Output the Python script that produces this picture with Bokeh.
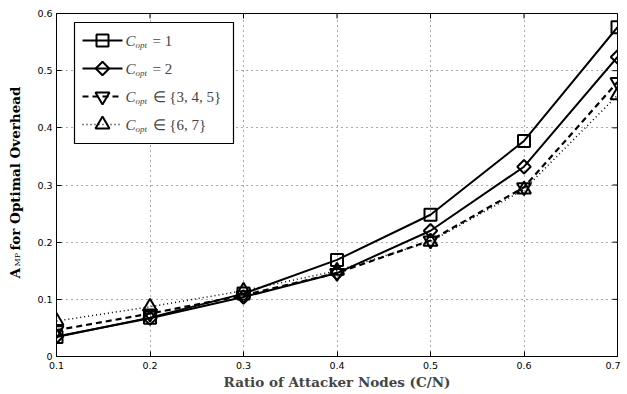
import numpy as np
from bokeh.plotting import figure
from bokeh.layouts import row
from bokeh.models import Range1d, FixedTicker, Label
from bokeh.core.properties import value
from bokeh.embed import file_html
from bokeh.resources import INLINE

# ---- data ----
ratio = [0.1, 0.2, 0.3, 0.4, 0.5, 0.6, 0.7]
c1 = [0.034, 0.068, 0.110, 0.169, 0.248, 0.377, 0.576]
c2 = [0.035, 0.067, 0.104, 0.146, 0.220, 0.332, 0.524]
c345 = [0.046, 0.075, 0.107, 0.146, 0.203, 0.296, 0.480]
c67 = [0.062, 0.087, 0.115, 0.150, 0.201, 0.292, 0.457]
x_ticks = [0.1, 0.2, 0.3, 0.4, 0.5, 0.6, 0.7]
y_ticks = [0, 0.1, 0.2, 0.3, 0.4, 0.5, 0.6]
x_label = "Ratio of Attacker Nodes (C/N)"
y_label_main = "A"
y_label_sub = "MP"
y_label_rest = "for Optimal Overhead"

# ---- layout constants (image pixels) ----
STRIP = 28
FL, FR, FT, FB = 56, 617, 13, 356
XMIN, XMAX, YMIN, YMAX = 0.1, 0.7, 0.0, 0.6
H = 392

def dx(ix):
    return XMIN + (ix - FL) / (FR - FL) * (XMAX - XMIN)

def dy(iy):
    return YMIN + (FB - iy) / (FB - FT) * (YMAX - YMIN)

W = 620 - STRIP
p = figure(width=W, height=H, output_backend="svg", toolbar_location=None,
           x_range=Range1d(XMIN, XMAX), y_range=Range1d(YMIN, YMAX),
           min_border_left=FL - STRIP, min_border_top=FT,
           min_border_right=620 - FR, min_border_bottom=H - FB)
p.outline_line_color = "black"
p.outline_line_width = 1
p.background_fill_color = "white"
p.border_fill_color = "white"

tick_font = "DejaVu Sans"
for ax in p.xaxis + p.yaxis:
    ax.major_tick_in = 5
    ax.major_tick_out = 0
    ax.minor_tick_line_color = None
    ax.axis_line_color = "black"
    ax.major_label_text_font = tick_font
    ax.major_label_text_font_size = "9.5px"
    ax.major_label_text_color = "black"
p.xaxis.ticker = FixedTicker(ticks=x_ticks)
p.yaxis.ticker = FixedTicker(ticks=y_ticks)
p.yaxis.major_label_overrides = {0: "0"}
p.xaxis.major_label_standoff = 5
p.yaxis.major_label_standoff = 4
p.xaxis.axis_label = x_label
p.xaxis.axis_label_text_font = "DejaVu Serif"
p.xaxis.axis_label_text_font_style = "bold"
p.xaxis.axis_label_text_font_size = "13.5px"
p.xaxis.axis_label_standoff = 2

p.grid.grid_line_color = "#555555"
p.grid.grid_line_dash = "1 4"
p.grid.grid_line_width = 1
p.xgrid.ticker = FixedTicker(ticks=x_ticks)
p.ygrid.ticker = FixedTicker(ticks=y_ticks)

# top / right inward ticks (mirror of the axes)
tx = 5 / (FB - FT) * (YMAX - YMIN)
ty = 5 / (FR - FL) * (XMAX - XMIN)
p.segment(x0=x_ticks, x1=x_ticks, y0=[YMAX] * len(x_ticks), y1=[YMAX - tx] * len(x_ticks),
          line_color="black", line_width=1)
p.segment(x0=[XMAX] * len(y_ticks), x1=[XMAX - ty] * len(y_ticks), y0=y_ticks, y1=y_ticks,
          line_color="black", line_width=1)

# ---- series ----
series = [
    (c1, "solid", 2, "square", 12, 0.0),
    (c2, "solid", 2, "square", 9.5, np.pi / 4),
    (c345, "6 4", 2.2, "inverted_triangle", 14, 0.0),
    (c67, "1 3", 1.5, "triangle", 14, 0.0),
]
for ys, dash, lw, mk, ms, ang in series:
    p.line(ratio, ys, line_color="black", line_width=lw, line_dash=dash)
    p.scatter(ratio, ys, marker=mk, size=ms, angle=ang, fill_color=None,
              line_color="black", line_width=2)

# ---- legend (custom) ----
p.quad(left=[dx(74)], right=[dx(233)], top=[dy(22)], bottom=[dy(143)],
       fill_color="white", line_color="black", line_width=1.2)
rows = [40, 68, 96, 124]
tails = ["= 1", "= 2", "\u2208 {3, 4, 5}", "\u2208 {6, 7}"]
for (ys, dash, lw, mk, ms, ang), ry, tail in zip(series, rows, tails):
    p.line([dx(82), dx(122)], [dy(ry), dy(ry)], line_color="black", line_width=lw, line_dash=dash)
    p.scatter([dx(102)], [dy(ry)], marker=mk, size=ms, angle=ang, fill_color=None,
              line_color="black", line_width=2)
    p.add_layout(Label(x=125 - FL, y=FB - ry, x_units="screen", y_units="screen", text="C",
                       text_baseline="middle", text_font="Liberation Serif",
                       text_font_style="italic", text_font_size="15px"))
    p.add_layout(Label(x=135 - FL, y=FB - ry - 4, x_units="screen", y_units="screen", text="opt",
                       text_baseline="middle", text_font="Liberation Serif",
                       text_font_style="italic", text_font_size="9px"))
    p.add_layout(Label(x=152 - FL, y=FB - ry, x_units="screen", y_units="screen", text=tail,
                       text_baseline="middle", text_font="Liberation Serif",
                       text_font_size="15px"))

# ---- y axis label strip (pixel coordinates; its frame is aligned with the main frame) ----
s = figure(width=STRIP, height=H, output_backend="svg", toolbar_location=None,
           x_range=Range1d(0, STRIP), y_range=Range1d(H - FB, H - FT),
           x_axis_type=None, y_axis_type=None,
           min_border=0, min_border_left=0, min_border_right=0,
           min_border_top=FT, min_border_bottom=H - FB)
s.outline_line_color = None
s.grid.visible = False
s.text(x=[14], y=[H - 278], text=[y_label_main], angle=np.pi / 2,
       text_align="left", text_baseline="middle", text_color="black",
       text_font=value("DejaVu Serif"), text_font_style="bold", text_font_size="13.5px")
s.text(x=[17], y=[H - 266], text=[y_label_sub], angle=np.pi / 2,
       text_align="left", text_baseline="middle", text_color="black",
       text_font=value("DejaVu Serif"), text_font_size="8px")
s.text(x=[14], y=[H - 250], text=[y_label_rest], angle=np.pi / 2,
       text_align="left", text_baseline="middle", text_color="black",
       text_font=value("DejaVu Serif"), text_font_style="bold", text_font_size="13.5px")

layout = row(s, p, spacing=0)
open("out.html", "w").write(file_html(layout, INLINE))
